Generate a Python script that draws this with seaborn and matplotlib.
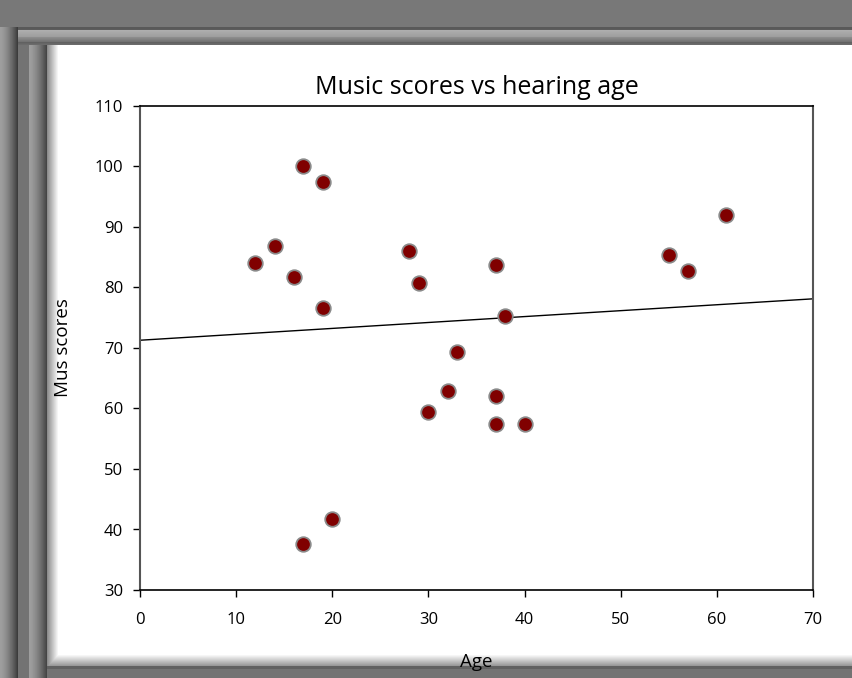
import numpy as np
import pandas as pd
import matplotlib
matplotlib.use("Agg")
import matplotlib.pyplot as plt
import seaborn as sns

# ---- data ----
age = [12, 14, 16, 17, 19, 19, 17, 20, 28, 29, 37, 38, 33, 32, 30, 37, 37, 40, 55, 57, 61]
mus_scores = [84, 86.8, 81.7, 100, 97.4, 76.6, 37.6, 41.7, 86, 80.7, 83.7, 75.3,
              69.4, 62.9, 59.4, 62, 57.5, 57.5, 85.3, 82.8, 92]
x_ticks = [0, 10, 20, 30, 40, 50, 60, 70]
y_ticks = [30, 40, 50, 60, 70, 80, 90, 100, 110]
title = "Music scores vs hearing age"
x_label = "Age"
y_label = "Mus scores"

df = pd.DataFrame({"Age": age, "Mus scores": mus_scores})

sns.set_theme(style="white")
plt.rcParams["font.family"] = ["Open Sans", "DejaVu Sans"]

W, H = 853, 678
fig = plt.figure(figsize=(W / 100, H / 100), dpi=100)

# ---- decorative frame background ----
img = np.full((H, W), 0.47)

def bevel(n):
    t = np.linspace(0, 1, n)
    return 0.62 - 0.38 * t ** 1.5

top0, top1 = 27, 45
prof = np.concatenate([np.linspace(0.35, 0.36, 3), np.linspace(0.68, 0.62, 7),
                       np.linspace(0.55, 0.45, 5), np.linspace(0.38, 0.42, 3)])
img[top0:top1, :] = prof[:, None]
# left bevel columns (start below the top band)
l1 = bevel(18)
img[top0:, 0:18] = l1[None, :]
img[top1:, 18:29] = 0.45
l2 = bevel(19)
img[top1:, 29:48] = l2[None, :]
# white panel with soft edges
x0, y0, y1 = 47, 45, 666
panel = np.ones((y1 - y0, W - x0))
sh = 12
ramp = np.linspace(0.55, 1.0, sh)
panel[:, :sh] = np.minimum(panel[:, :sh], ramp[None, :])
bramp = np.linspace(1.0, 0.6, sh)
panel[-sh:, :] = np.minimum(panel[-sh:, :], bramp[:, None])
img[y0:y1, x0:] = panel
img[y1:, x0:] = 0.45
img[y1:y1 + 3, x0:] = 0.38

bg = fig.add_axes([0, 0, 1, 1])
bg.imshow(img, cmap="gray", vmin=0, vmax=1, aspect="auto", interpolation="bilinear")
bg.set_axis_off()

# ---- main axes ----
ax = fig.add_axes([140 / W, 1 - 590 / H, (813 - 140) / W, (590 - 106) / H])
ax.set_facecolor("white")
ax.set_xlim(0, 70)
ax.set_ylim(30, 110)

sns.regplot(data=df, x="Age", y="Mus scores", ax=ax, scatter=False, ci=None,
            truncate=False, line_kws=dict(color="black", lw=1.0))
sns.scatterplot(data=df, x="Age", y="Mus scores", ax=ax, s=110, color="#800000",
                edgecolor="#8a8a8a", linewidth=1.3, zorder=3)

ax.set_xlim(0, 70)
ax.set_ylim(30, 110)
ax.set_xticks(x_ticks)
ax.set_yticks(y_ticks)
ax.tick_params(axis="both", which="major", direction="out", length=5, width=1,
               color="black", labelsize=12, labelcolor="black", pad=7,
               bottom=True, left=True)
ax.tick_params(axis="x", pad=11)
for side in ["top", "bottom"]:
    ax.spines[side].set_color("black")
    ax.spines[side].set_linewidth(1.2)
for side in ["left", "right"]:
    ax.spines[side].set_color("#555555")
    ax.spines[side].set_linewidth(1.5)
    ax.spines[side].set_visible(True)

ax.set_title(title, fontsize=18, color="black", pad=9)
ax.set_xlabel(x_label, fontsize=13.5, color="black", labelpad=18)
ax.set_ylabel(y_label, fontsize=13.5, color="black", labelpad=16)

fig.savefig("out.png", dpi=100)
